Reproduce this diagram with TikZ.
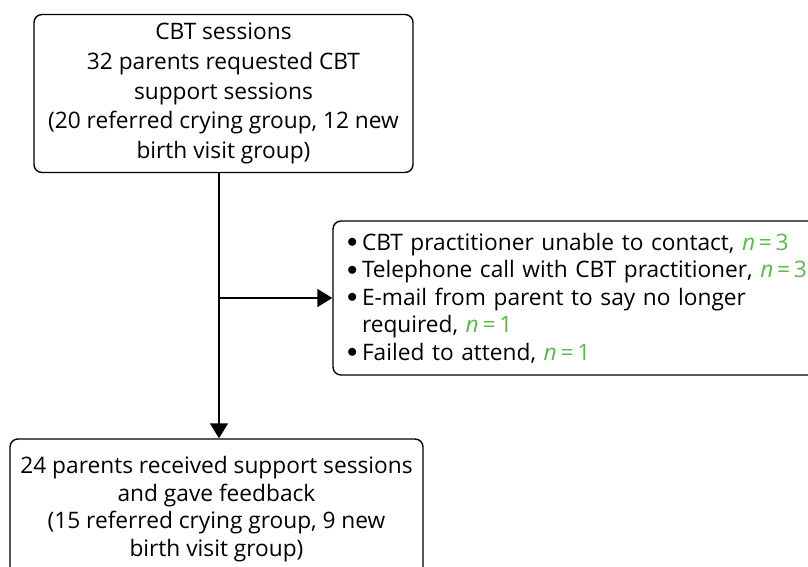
\documentclass[tikz,border=0pt]{standalone}
\usepackage{fontspec}
\setmainfont{Open Sans}
\usetikzlibrary{arrows.meta}
\definecolor{nGreen}{RGB}{92,184,72}
\newcommand{\nval}[1]{{\color{nGreen}\textit{n}\,=\,#1}}
\newcommand{\blt}{\makebox[15pt][l]{\raisebox{0.1em}{$\bullet$}}}
\begin{document}
\begin{tikzpicture}[x=1pt,y=-1pt,
  box/.style={draw,line width=1.4pt,rounded corners=8pt,inner sep=0pt},
  flow/.style={line width=1.4pt,-{Triangle[length=15pt,width=18pt]}}]
\useasboundingbox (0,0) rectangle (808,566);
\clip (0,0) rectangle (808,566);
\node[box,minimum width=379pt,minimum height=158pt,align=center,
      font=\fontsize{22.7}{29.8}\selectfont] (top) at (223.5,93.5)
  {CBT sessions\\32 parents requested CBT\\support sessions\\(20 referred crying group, 12 new\\birth visit group)};
\node[box,minimum width=413pt,minimum height=140pt,align=center,
      font=\fontsize{22.7}{27.7}\selectfont] (bot) at (216.5,509)
  {24 parents received support sessions\\and gave feedback\\(15 referred crying group, 9 new\\birth visit group)};
\node[box,inner xsep=14pt,minimum height=154pt,text width=470pt,align=left,
      font=\fontsize{22.7}{27.5}\selectfont] (side) at (582,298)
  {\blt CBT practitioner unable to contact, \nval{3}\\
   \blt Telephone call with CBT practitioner, \nval{3}\\
   \blt E-mail from parent to say no longer\\
   \hphantom{\blt}required, \nval{1}\\
   \blt Failed to attend, \nval{1}};
\coordinate (sp) at (219,0);
\draw[flow] (top.south -| sp) -- (bot.north -| sp);
\draw[flow] (side.west -| sp) -- (side.west);
\end{tikzpicture}
\end{document}
